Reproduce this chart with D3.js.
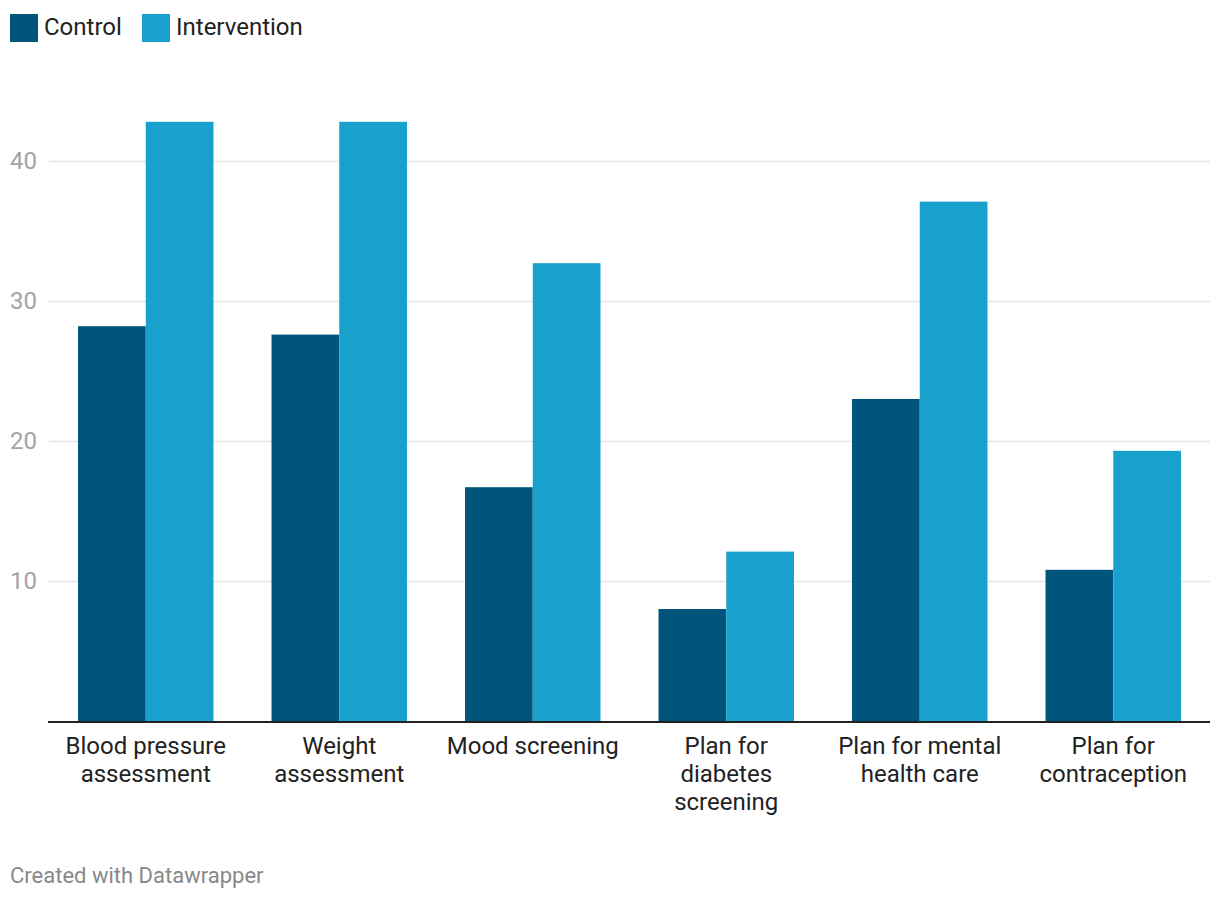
<!DOCTYPE html>
<html>
<head>
<meta charset="utf-8">
<script src="https://cdn.jsdelivr.net/npm/d3@7"></script>
<style>
  body { margin: 0; background: #fff; font-family: Roboto, "Noto Sans", sans-serif; }
  .tick text { font-family: Roboto, sans-serif; }
</style>
</head>
<body>
<div id="vis"><svg></svg></div>
<script>
// data
var categories = [
  ["Blood pressure", "assessment"],
  ["Weight", "assessment"],
  ["Mood screening"],
  ["Plan for", "diabetes", "screening"],
  ["Plan for mental", "health care"],
  ["Plan for", "contraception"]
];
var seriesNames = ["Control", "Intervention"];
var control      = [28.2, 27.6, 16.7, 8.0, 23.0, 10.8];
var intervention = [42.8, 42.8, 32.7, 12.1, 37.1, 19.3];
var yTicks = [10, 20, 30, 40];
var colours = ["#01547c", "#18a1cd"];

var width = 1220, height = 900;
var svg = d3.select("#vis").select("svg")
  .attr("width", width)
  .attr("height", height);

var keys = categories.map(d => d.join(" "));
var rows = keys.map((k, i) => ({key: k, lines: categories[i], values: [control[i], intervention[i]]}));

var x = d3.scaleBand()
  .domain(keys)
  .range([49, 1210])
  .paddingInner(0.3)
  .paddingOuter(0.15);

var x1 = d3.scaleBand()
  .domain(seriesNames)
  .range([0, x.bandwidth()]);

var y = d3.scaleLinear()
  .domain([0, 40])
  .range([721, 161]);

// grid + y labels
var yAxis = d3.axisLeft(y)
  .tickValues(yTicks)
  .tickSize(-(1210 - 49))
  .tickPadding(12);

var gy = svg.append("g")
  .attr("class", "axis yAxis")
  .attr("transform", "translate(49,0)")
  .call(yAxis);
gy.select(".domain").remove();
gy.selectAll(".tick line").attr("stroke", "#e5e5e5").attr("stroke-width", 1.5);
gy.selectAll(".tick text")
  .attr("x", -12)
  .attr("fill", "#a3a3a3")
  .style("font-size", "24px");

// bars
var groups = svg.selectAll("g.group")
  .data(rows)
  .enter()
  .append("g")
  .attr("class", "group")
  .attr("transform", d => `translate(${x(d.key)},0)`);

groups.selectAll("rect")
  .data(d => d.values.map((v, i) => ({name: seriesNames[i], value: v, i: i})))
  .enter()
  .append("rect")
  .attr("x", d => x1(d.name))
  .attr("width", x1.bandwidth())
  .attr("y", d => y(d.value))
  .attr("height", d => y(0) - y(d.value))
  .style("fill", d => colours[d.i]);

// baseline
svg.append("line")
  .attr("x1", 48).attr("x2", 1210)
  .attr("y1", y(0) + 1).attr("y2", y(0) + 1)
  .attr("stroke", "#222")
  .attr("stroke-width", 2);

// category labels
groups.each(function(d) {
  var t = d3.select(this).append("text")
    .attr("x", x.bandwidth() / 2)
    .attr("y", 754)
    .attr("text-anchor", "middle")
    .attr("fill", "#222")
    .style("font-size", "24px");
  d.lines.forEach((l, i) => {
    t.append("tspan").attr("x", x.bandwidth() / 2).attr("dy", i ? 28 : 0).text(l);
  });
});

// legend
var lx = [10, 142];
var legend = svg.selectAll("g.legend")
  .data(seriesNames)
  .enter()
  .append("g")
  .attr("class", "legend")
  .attr("transform", (d, i) => `translate(${lx[i]},14)`);
legend.append("rect")
  .attr("width", 28).attr("height", 28)
  .style("fill", (d, i) => colours[i]);
legend.append("text")
  .attr("x", 34).attr("y", 21)
  .attr("fill", "#222")
  .style("font-size", "24px")
  .text(d => d);

// footer
svg.append("text")
  .attr("x", 10).attr("y", 883)
  .attr("fill", "#888")
  .style("font-size", "22px")
  .text("Created with Datawrapper");
</script>
</body>
</html>
